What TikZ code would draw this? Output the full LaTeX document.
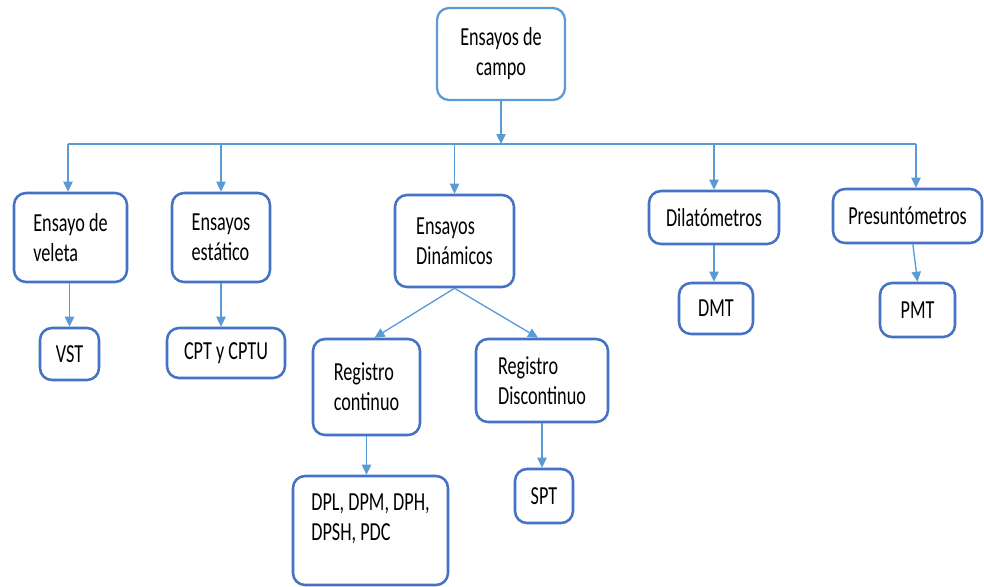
\documentclass[tikz,border=0pt]{standalone}
\usepackage{fontspec}
\setmainfont{Carlito}[FakeStretch=0.7]
\usetikzlibrary{arrows.meta}
\definecolor{boxblue}{HTML}{4472C4}
\definecolor{lineblue}{HTML}{5B9BD5}
\tikzset{
  box/.style={draw=boxblue, line width=1.9pt, rounded corners=9pt, fill=white,
    align=left, inner sep=0pt, font=\fontsize{19.5}{22.5}\selectfont},
  topbox/.style={box, draw=lineblue, line width=1.7pt, align=center},
  bus/.style={draw=lineblue, line width=1pt},
  link/.style={bus, -{Triangle[width=7pt,length=7.5pt]}},
}
\begin{document}
\begin{tikzpicture}[x=0.75pt,y=-0.75pt]
\useasboundingbox (0,0) rectangle (984,586);
\node[topbox, minimum width=96pt, minimum height=69pt] (campo) at (501,54) {Ensayos de\\campo};
\node[box, minimum width=84.75pt, minimum height=66.75pt] (veleta) at (70.5,237.5) {Ensayo de\\veleta};
\node[box, minimum width=73.5pt, minimum height=66.75pt] (estatico) at (221,237.5) {Ensayos\\estático};
\node[box, minimum width=89.25pt, minimum height=69pt] (dinamicos) at (454.5,241) {Ensayos\\Dinámicos};
\node[box, minimum width=97.5pt, minimum height=39.75pt] (dilat) at (714,217.5) {Dilatómetros};
\node[box, minimum width=111.75pt, minimum height=40.5pt] (presunt) at (907.5,216) {Presuntómetros};
\node[box, minimum width=44.25pt, minimum height=39pt] (vst) at (69.5,354) {VST};
\node[box, minimum width=88.5pt, minimum height=37.5pt] (cpt) at (226,353) {CPT y CPTU};
\node[box, minimum width=55.5pt, minimum height=38.25pt] (dmt) at (716,308.5) {DMT};
\node[box, minimum width=56.25pt, minimum height=40.5pt] (pmt) at (917.5,310) {PMT};
\node[box, minimum width=80.25pt, minimum height=72pt] (regcont) at (366.5,387) {Registro\\continuo};
\node[box, minimum width=99pt, minimum height=62.25pt] (regdisc) at (542,380.5) {Registro\\Discontinuo};
\node[box, minimum width=116.25pt, minimum height=81.75pt, text depth=20pt] (dpl) at (370.5,530.5) {DPL, DPM, DPH,\\DPSH, PDC};
\node[box, minimum width=43.5pt, minimum height=40.5pt] (spt) at (544,496) {SPT};
\coordinate (hub) at (501,144);
\coordinate (busL) at (68,144);
\coordinate (busR) at (916,144);
\draw[link] (campo.south) -- (hub);
\draw[bus] (busL) -- (busR);
\draw[link] (busL) -- (busL |- veleta.north);
\draw[link] (estatico.north |- busL) -- (estatico.north);
\draw[link] (dinamicos.north |- busL) -- (dinamicos.north);
\draw[link] (dilat.north |- busL) -- (dilat.north);
\draw[link] (busR) -- (busR |- presunt.north);
\draw[link] (vst.north |- veleta.south) -- (vst.north);
\draw[link] (estatico.south) -- (estatico.south |- cpt.north);
\draw[link] (dilat.south) -- (dilat.south |- dmt.north);
\draw[link] ([xshift=4pt]presunt.south) -- (pmt.north);
\draw[link] (dinamicos.south) -- ([xshift=6pt]regcont.north);
\draw[link] (dinamicos.south) -- ([xshift=-3pt]regdisc.north);
\draw[link] (regcont.south) -- (regcont.south |- dpl.north);
\draw[link] (regdisc.south) -- (regdisc.south |- spt.north);
\end{tikzpicture}
\end{document}
